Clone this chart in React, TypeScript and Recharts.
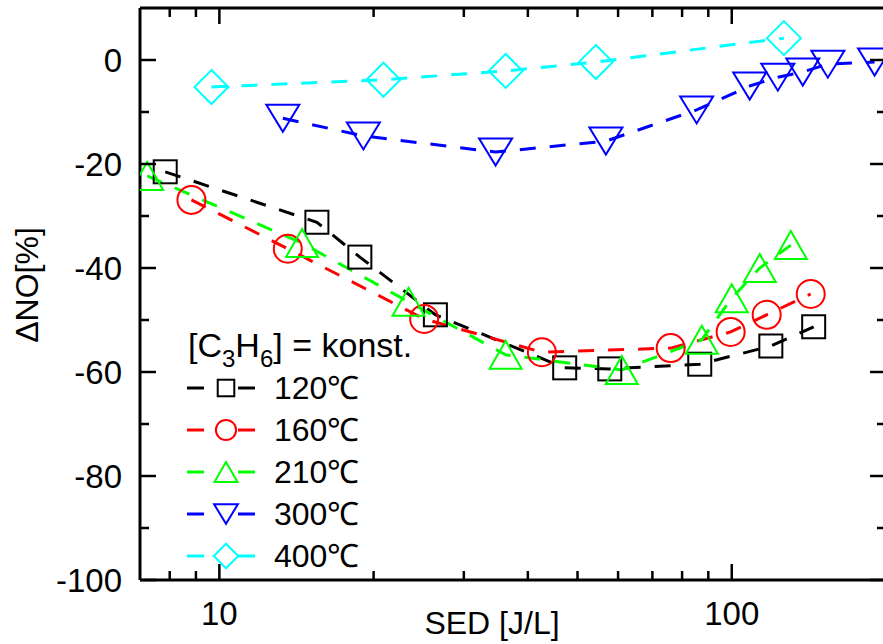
import { LineChart, Line, XAxis, YAxis, Legend } from 'recharts';

const FONT = '"Liberation Sans", Arial, Helvetica, sans-serif';

// SED [J/L] and ΔNO [%] per temperature
const SED_120 = [7.84, 15.5, 18.8, 26.4, 47.2, 57.8, 86.6, 119.2, 144.5];
const DNO_120 = [-21.5, -31.2, -37.9, -49.0, -59.2, -59.4, -58.5, -55.0, -51.3];
const SED_160 = [8.82, 13.6, 25.1, 42.6, 76.0, 99.5, 117, 142.6];
const DNO_160 = [-26.9, -36.3, -49.8, -56.2, -55.4, -52.3, -49.0, -45.0];
const SED_210 = [7.23, 14.5, 23.4, 36.2, 61, 87.4, 100, 113.4, 130.4];
const DNO_210 = [-22.3, -35.2, -46.5, -56.7, -59.6, -53.8, -45.8, -40.0, -35.6];
const SED_300 = [13.3, 19.1, 34.6, 56.8, 85.4, 108.4, 123, 137.6, 154, 190];
const DNO_300 = [-11.2, -14.6, -17.7, -15.6, -9.6, -5.0, -3.3, -2.3, -0.8, -0.4];
const SED_400 = [9.65, 20.9, 36.2, 54.3, 126.4];
const DNO_400 = [-5.2, -3.8, -2.1, -0.4, 4.2];

const X_TICKS = [8, 9, 10, 20, 30, 40, 50, 60, 70, 80, 90, 100, 200];
const X_LABELS = [10, 100];
const Y_TICKS = [-100, -90, -80, -70, -60, -50, -40, -30, -20, -10, 0];

const toPoints = (xs: number[], ys: number[]) => xs.map((x, i) => ({ x, y: ys[i] }));

const SERIES = [
  { name: '120℃', color: '#000000', shape: 'square', data: toPoints(SED_120, DNO_120) },
  { name: '160℃', color: '#FF0000', shape: 'circle', data: toPoints(SED_160, DNO_160) },
  { name: '210℃', color: '#00FF00', shape: 'up', data: toPoints(SED_210, DNO_210) },
  { name: '300℃', color: '#0000FF', shape: 'down', data: toPoints(SED_300, DNO_300) },
  { name: '400℃', color: '#00FFFF', shape: 'diamond', data: toPoints(SED_400, DNO_400) },
];

function Marker({ shape, cx, cy, color, s = 1 }: any) {
  const common = { fill: 'none', stroke: color, strokeWidth: 2 };
  if (shape === 'square') {
    const h = 11.5 * s;
    return <rect x={cx - h} y={cy - h} width={2 * h} height={2 * h} {...common} />;
  }
  if (shape === 'circle') return <circle cx={cx} cy={cy} r={14 * s} {...common} />;
  if (shape === 'up') {
    const w = 16 * s, h = 14 * s;
    return <polygon points={`${cx},${cy - h} ${cx + w},${cy + h} ${cx - w},${cy + h}`} {...common} />;
  }
  if (shape === 'down') {
    const w = 16.5 * s, h = 13.5 * s;
    return <polygon points={`${cx - w},${cy - h} ${cx + w},${cy - h} ${cx},${cy + h}`} {...common} />;
  }
  const d = 17 * s;
  return <polygon points={`${cx},${cy - d} ${cx + d},${cy} ${cx},${cy + d} ${cx - d},${cy}`} {...common} />;
}

const BottomTick = ({ x, y, payload }: any) => {
  const v = payload.value;
  const major = X_LABELS.includes(v);
  return (
    <g>
      <line x1={x} y1={y} x2={x} y2={y - (major ? 16 : 9)} stroke="#000" strokeWidth={2.5} />
      {major && (
        <text x={x} y={y + 45} textAnchor="middle" fontSize={33} fontFamily={FONT} fill="#000">
          {v}
        </text>
      )}
    </g>
  );
};

const TopTick = ({ x, y, payload }: any) => {
  const major = X_LABELS.includes(payload.value);
  return <line x1={x} y1={y} x2={x} y2={y + (major ? 16 : 9)} stroke="#000" strokeWidth={2.5} />;
};

const LeftTick = ({ x, y, payload }: any) => {
  const v = payload.value;
  const major = v % 20 === 0;
  return (
    <g>
      <line x1={x} y1={y} x2={x + (major ? 16 : 9)} y2={y} stroke="#000" strokeWidth={2.5} />
      {major && (
        <text x={x - 18} y={y + 12} textAnchor="end" fontSize={33} fontFamily={FONT} fill="#000">
          {v}
        </text>
      )}
    </g>
  );
};

const RightTick = ({ x, y, payload }: any) => {
  const major = payload.value % 20 === 0;
  return <line x1={x} y1={y} x2={x - (major ? 16 : 9)} y2={y} stroke="#000" strokeWidth={2.5} />;
};

const ROWS = [388, 430, 472, 514, 556];

function LegendBox() {
  return (
    <svg width={883} height={644} style={{ position: 'absolute', left: 0, top: 0, pointerEvents: 'none' }}>
      <text x={188} y={357} fontSize={34} fontFamily={FONT} fill="#000">
        [C<tspan fontSize={24} dy={10}>3</tspan>
        <tspan dy={-10}>H</tspan>
        <tspan fontSize={24} dy={10}>6</tspan>
        <tspan dy={-10}>] = konst.</tspan>
      </text>
      {SERIES.map((s, i) => (
        <g key={s.name}>
          <line x1={187} y1={ROWS[i]} x2={204} y2={ROWS[i]} stroke={s.color} strokeWidth={3} />
          <line x1={238} y1={ROWS[i]} x2={255} y2={ROWS[i]} stroke={s.color} strokeWidth={3} />
          <Marker shape={s.shape} cx={226} cy={ROWS[i]} color={s.color} s={0.72} />
          <text x={274} y={ROWS[i] + 11} fontSize={32} fontFamily={FONT} fill="#000">
            {s.name}
          </text>
        </g>
      ))}
    </svg>
  );
}

export default function App() {
  return (
    <div style={{ position: 'fixed', left: 0, top: 0, width: 883, height: 644, overflow: 'hidden', background: '#fff' }}>
      <LineChart width={900} height={644} margin={{ top: 7, right: 13, bottom: 0, left: 0 }}>
        <XAxis
          type="number"
          dataKey="x"
          scale="log"
          domain={[7, 200]}
          allowDataOverflow
          ticks={X_TICKS}
          interval={0}
          height={64}
          tickSize={0}
          tickMargin={0}
          tickLine={false}
          axisLine={{ stroke: '#000', strokeWidth: 3 }}
          tick={<BottomTick />}
          label={{
            content: () => (
              <text x={492} y={634} textAnchor="middle" fontSize={32} fontFamily={FONT} fill="#000">
                SED [J/L]
              </text>
            ),
          }}
        />
        <XAxis
          xAxisId="top"
          orientation="top"
          type="number"
          dataKey="x"
          scale="log"
          domain={[7, 200]}
          allowDataOverflow
          ticks={X_TICKS}
          interval={0}
          height={1}
          tickSize={0}
          tickMargin={0}
          tickLine={false}
          axisLine={{ stroke: '#000', strokeWidth: 3 }}
          tick={<TopTick />}
        />
        <YAxis
          type="number"
          domain={[-100, 10]}
          allowDataOverflow
          ticks={Y_TICKS}
          interval={0}
          width={140}
          tickSize={0}
          tickMargin={0}
          tickLine={false}
          axisLine={{ stroke: '#000', strokeWidth: 3 }}
          tick={<LeftTick />}
          label={{
            content: () => (
              <text
                x={38}
                y={285}
                transform="rotate(-90 38 285)"
                textAnchor="middle"
                fontSize={32}
                fontFamily={FONT}
                fill="#000"
              >
                ΔNO[%]
              </text>
            ),
          }}
        />
        <YAxis
          yAxisId="right"
          orientation="right"
          type="number"
          domain={[-100, 10]}
          allowDataOverflow
          ticks={Y_TICKS}
          interval={0}
          width={1}
          tickSize={0}
          tickMargin={0}
          tickLine={false}
          axisLine={{ stroke: '#000', strokeWidth: 3 }}
          tick={<RightTick />}
        />
        <Legend
          layout="vertical"
          align="center"
          verticalAlign="middle"
          wrapperStyle={{ left: 0, top: 0, width: 883, height: 644, pointerEvents: 'none' }}
          content={() => <LegendBox />}
        />
        {SERIES.map((s) => (
          <Line
            key={s.name}
            name={s.name}
            data={s.data}
            dataKey="y"
            type="linear"
            stroke={s.color}
            strokeWidth={3}
            strokeDasharray="16 14"
            isAnimationActive={false}
            activeDot={false}
            dot={(p: any) => <Marker key={p.index} shape={s.shape} cx={p.cx} cy={p.cy} color={s.color} />}
          />
        ))}
      </LineChart>
    </div>
  );
}
